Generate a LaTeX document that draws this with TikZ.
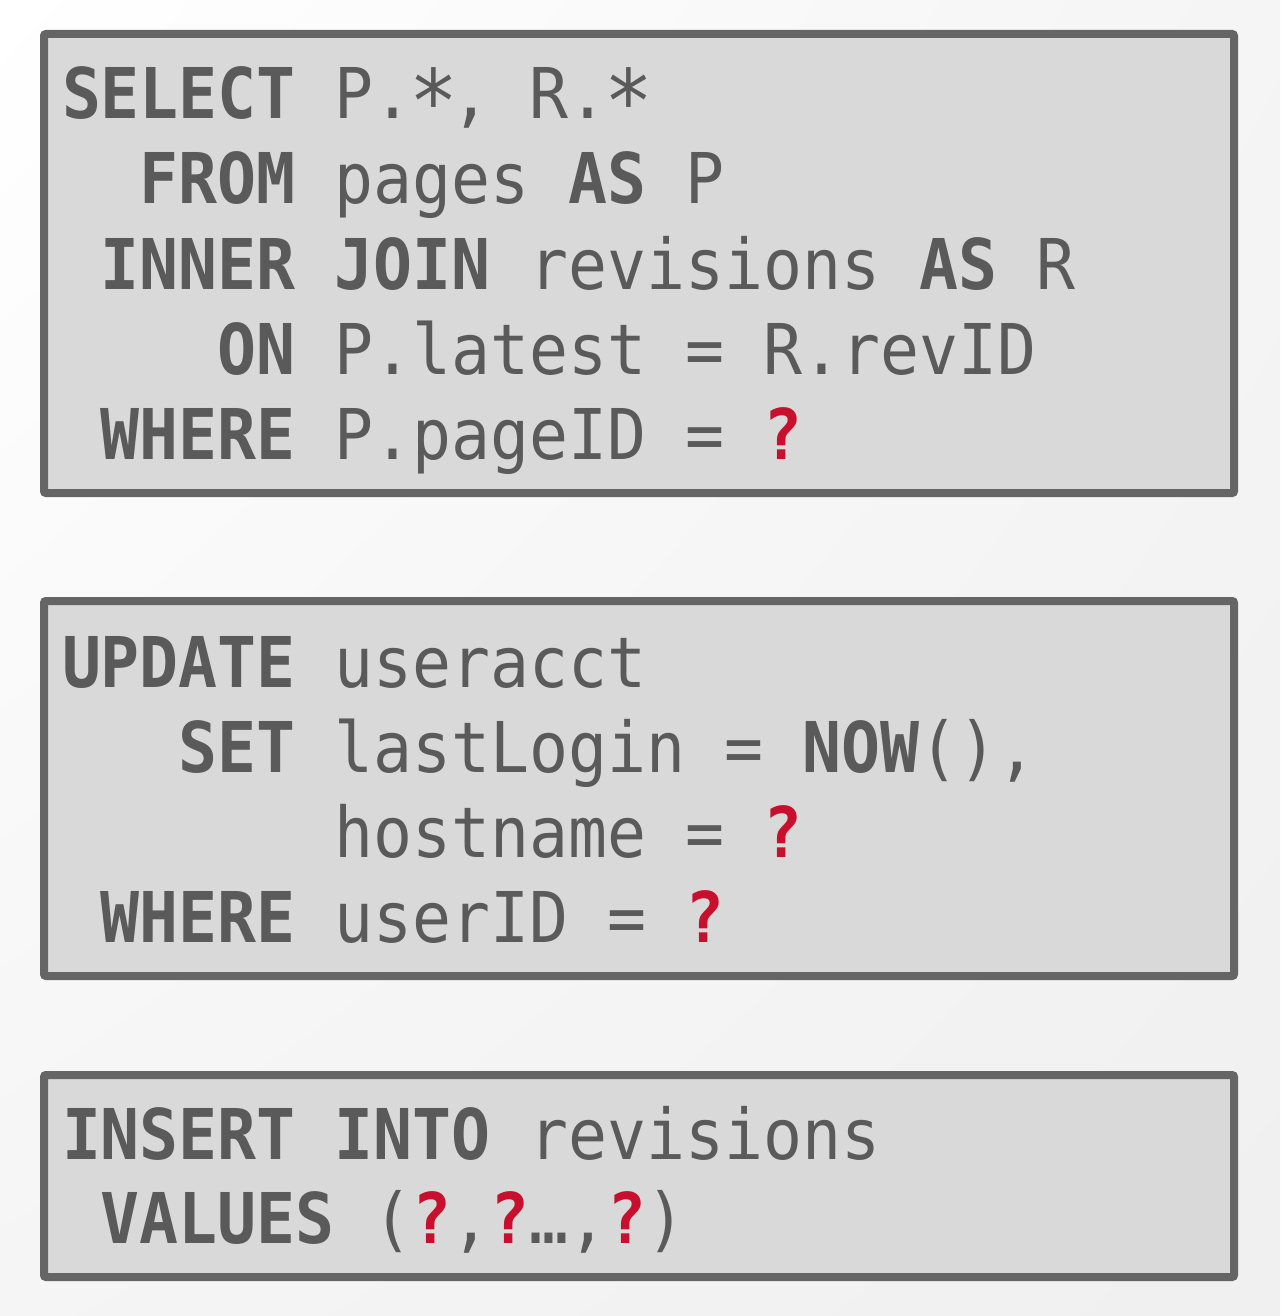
\documentclass[tikz,border=0pt]{standalone}
\usepackage{fontspec}
\usetikzlibrary{shadings}
\newfontfamily\codefont{DejaVu Sans Mono}[FakeStretch=0.925]
\definecolor{codegray}{HTML}{5A5A5A}
\definecolor{boxfill}{HTML}{D9D9D9}
\definecolor{boxline}{HTML}{656565}
\definecolor{qred}{HTML}{C8102E}
\newcommand{\kw}[1]{\textbf{#1}}
\newcommand{\qm}{\textcolor{qred}{\textbf{?}}}
\newcommand{\codestar}{\makebox[0pt][l]{\hspace*{0.3em}\makebox[0pt][c]{\raisebox{-0.2em}{\scalebox{1.25}{*}}}}\phantom{*}}
\tikzset{
  codebox/.style={draw=boxline, fill=boxfill, line width=4pt, rounded corners=1pt},
  codeline/.style={anchor=base west, inner sep=0pt, outer sep=0pt, text=codegray,
    font=\codefont\fontsize{35pt}{42pt}\selectfont},
}
\begin{document}
\begin{tikzpicture}[x=0.5pt,y=-0.5pt]
\useasboundingbox (0,0) rectangle (1280,1316);
\shade[upper left=white, upper right=white!96!black, lower left=white!96!black, lower right=white!94!black] (0,0) rectangle (1280,1316);
% boxes
\draw[codebox] (44,34) rectangle (1234,493);
\draw[codebox] (44,601) rectangle (1234,976);
\draw[codebox] (44,1075) rectangle (1234,1277);
% box 1
\node[codeline] (a1) at (62,119) {\kw{SELECT} P.\codestar, R.\codestar};
\node[codeline] (a2) at (62,204) {~~\kw{FROM} pages \kw{AS} P};
\node[codeline] (a3) at (62,289) {~\kw{INNER} \kw{JOIN} revisions \kw{AS} R};
\node[codeline] (a4) at (62,374) {~~~~\kw{ON} P.latest = R.revID};
\node[codeline] (a5) at (62,459) {~\kw{WHERE} P.pageID = \qm};
% box 2
\node[codeline] (b1) at (62,687) {\kw{UPDATE} useracct};
\node[codeline] (b2) at (62,772) {~~~\kw{SET} lastLogin = \kw{NOW}(),};
\node[codeline] (b3) at (62,857) {~~~~~~~hostname = \qm};
\node[codeline] (b4) at (62,942) {~\kw{WHERE} userID = \qm};
% box 3
\node[codeline] (c1) at (62,1159) {\kw{INSERT} \kw{INTO} revisions};
\node[codeline] (c2) at (62,1243) {~\kw{VALUES} (\qm,\qm…,\qm)};
\end{tikzpicture}
\end{document}
